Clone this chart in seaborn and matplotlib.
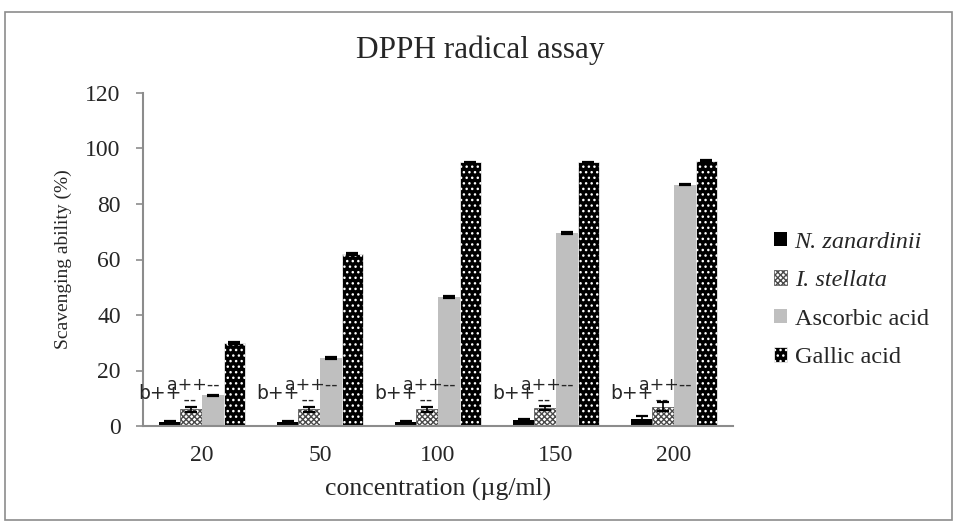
import matplotlib
matplotlib.use("Agg")
import matplotlib.pyplot as plt
import seaborn as sns
import pandas as pd
import numpy as np
from matplotlib.patches import Patch, Rectangle

concentrations = ["20", "50", "100", "150", "200"]
series = ["N. zanardinii", "I. stellata", "Ascorbic acid", "Gallic acid"]
n_zanardinii = [1.5, 1.5, 1.5, 2.0, 2.5]
i_stellata = [6.0, 6.0, 6.0, 6.5, 7.0]
ascorbic = [11.0, 24.5, 46.5, 69.5, 87.0]
gallic = [30.0, 62.0, 95.0, 95.0, 95.5]
err_nz = [0.3, 0.3, 0.3, 0.5, 1.2]
err_is = [0.8, 0.8, 0.8, 0.8, 1.5]
err_as = [0.3, 0.3, 0.3, 0.3, 0.3]
err_ga = [0.3, 0.3, 0.3, 0.3, 0.3]

values = [n_zanardinii, i_stellata, ascorbic, gallic]
errors = [err_nz, err_is, err_as, err_ga]

rows = []
for s, vals in zip(series, values):
    for c, v in zip(concentrations, vals):
        rows.append({"conc": c, "value": v, "series": s})
df = pd.DataFrame(rows)

sns.set_style("white")
plt.rcParams["font.family"] = ["Liberation Serif", "DejaVu Serif"]
plt.rcParams["hatch.linewidth"] = 1.0

fig = plt.figure(figsize=(9.57, 5.24), dpi=100)
ax = fig.add_axes([143 / 957, 1 - 426 / 524, (733 - 143) / 957, (426 - 93) / 524])

face = ["black", "white", "#bfbfbf", "black"]
edge = ["black", "#4a4a4a", "#bfbfbf", "white"]
hatch = [None, "xxxxxx", None, "..."]

sns.barplot(data=df, x="conc", y="value", hue="series", order=concentrations,
            hue_order=series, palette=dict(zip(series, face)), width=0.73,
            errorbar=None, legend=False, ax=ax, saturation=1)

bar_containers = list(ax.containers)
for i, cont in enumerate(bar_containers):
    for p, e in zip(cont.patches, errors[i]):
        p.set_facecolor(face[i])
        p.set_edgecolor(edge[i])
        p.set_linewidth(0.0 if i in (0, 2) else 0.5)
        if hatch[i]:
            p.set_hatch(hatch[i])
        cx = p.get_x() + p.get_width() / 2
        ax.errorbar(cx, p.get_height(), yerr=e, fmt="none", ecolor="black",
                    elinewidth=1.2, capsize=4, capthick=1.6, zorder=5)

# odd annotation marks (as in the reference)
for k in range(len(concentrations)):
    ax.text(k - 0.54, 9.6, "b++", fontsize=13.5, family="DejaVu Sans", va="baseline", ha="left")
    ax.text(k - 0.30, 7.6, "a++--\n   --", fontsize=12.5, family="DejaVu Sans",
            va="baseline", ha="left", linespacing=0.8, multialignment="left")

ax.set_ylim(0, 120)
ax.set_xlim(-0.5, 4.5)
ax.set_yticks([0, 20, 40, 60, 80, 100, 120])
ax.set_ylabel("Scavenging ability (%)", fontsize=14, labelpad=10)
ax.set_xlabel("concentration (\u00b5g/ml)", fontsize=18.5, labelpad=9)
ax.tick_params(axis="y", which="both", left=True, length=5, width=1.2, color="#8c8c8c",
               labelsize=17, pad=11)
ax.tick_params(axis="x", bottom=False, labelsize=17, pad=10)
for s in ["top", "right"]:
    ax.spines[s].set_visible(False)
for s in ["left", "bottom"]:
    ax.spines[s].set_color("#8c8c8c")
    ax.spines[s].set_linewidth(1.5)

fig.text(480 / 957, 1 - 50 / 524, "DPPH radical assay", fontsize=22.5, ha="center", va="center")

handles = []
for i in range(4):
    handles.append(Patch(facecolor=face[i], edgecolor=edge[i], hatch=hatch[i],
                          linewidth=0.5 if i in (1, 3) else 0))
leg = fig.legend(handles, series, loc="center left", bbox_to_anchor=(774 / 957, 1 - 300 / 524),
                 frameon=False, fontsize=17.5, handlelength=0.55, handleheight=0.55,
                 handletextpad=0.3, labelspacing=0.72, borderpad=0, borderaxespad=0)
for t in leg.get_texts()[:2]:
    t.set_fontstyle("italic")

fig.patches.append(Rectangle((5 / 957, 1 - 520 / 524), 947 / 957, 508 / 524,
                             transform=fig.transFigure, fill=False, edgecolor="#8c8c8c",
                             linewidth=1.2))

fig.savefig("out.png", dpi=100)
